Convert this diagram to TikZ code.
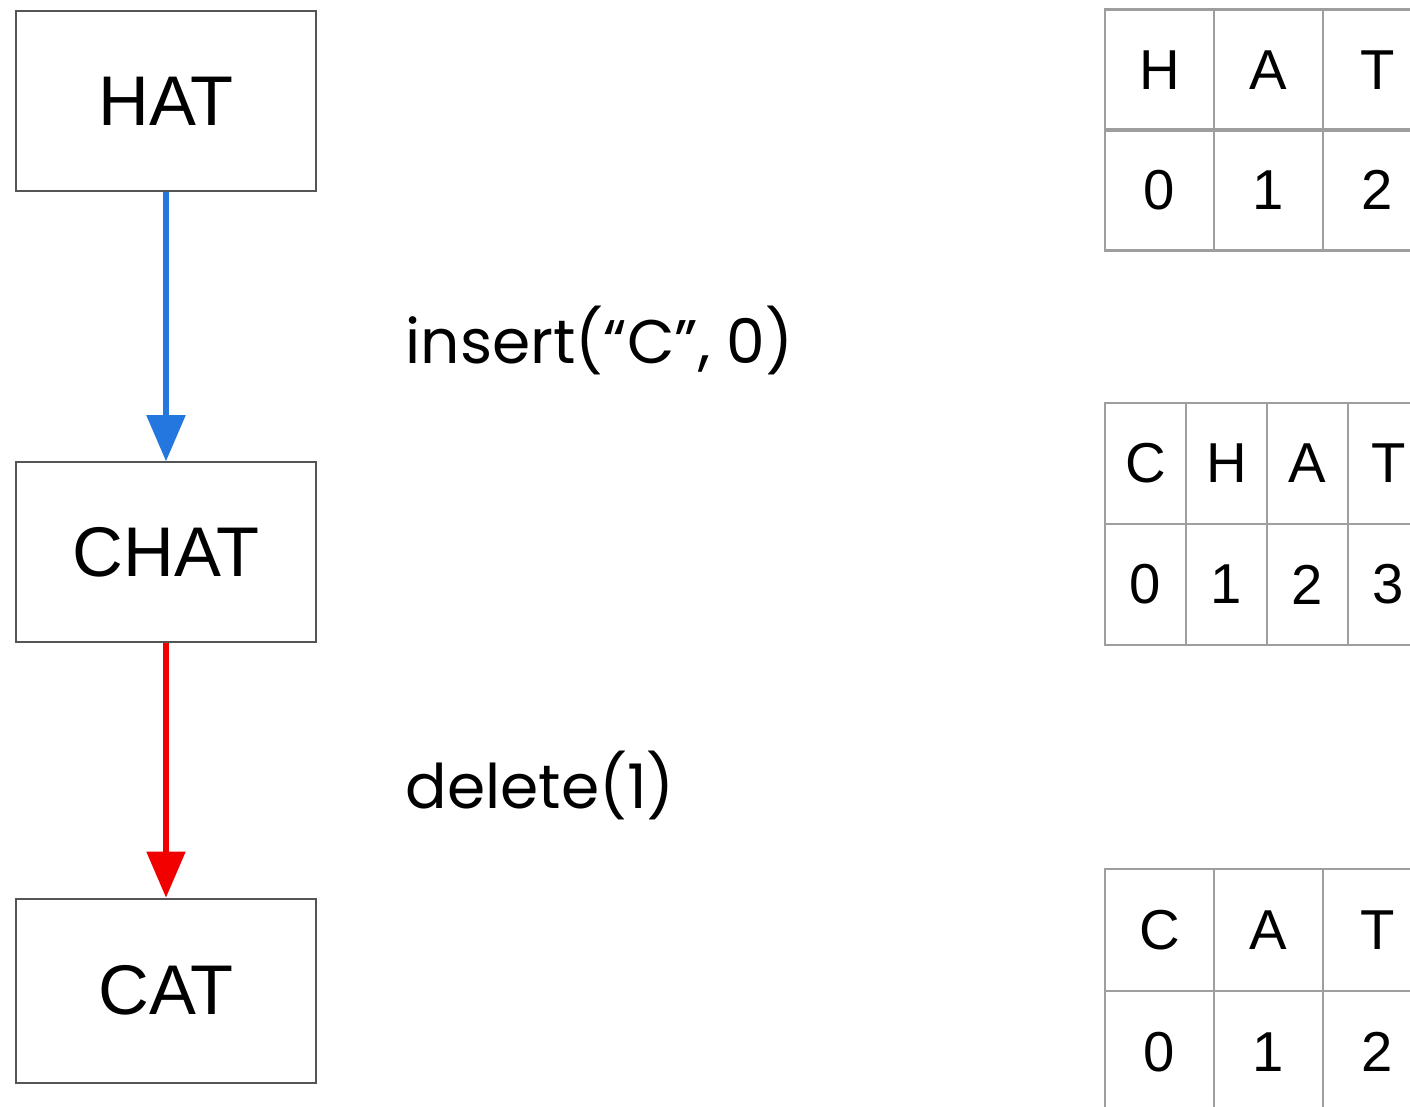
\documentclass[tikz,border=0pt]{standalone}
\usepackage{fontspec}
\setmainfont{Liberation Sans}
\newfontfamily\labelfont{Poppins}
\usetikzlibrary{positioning,arrows.meta}
\definecolor{boxgray}{HTML}{555555}
\definecolor{cellgray}{HTML}{9E9E9E}
\definecolor{insblue}{HTML}{2377DE}
\definecolor{delred}{HTML}{F20000}

\begin{document}
\begin{tikzpicture}[x=0.01cm, y=-0.01cm,
    main/.style = {draw=boxgray, line width=0.6pt, minimum width=3cm, minimum height=1.8cm, inner sep=0pt, font=\fontsize{20}{24}\selectfont},
    cell/.style = {draw=cellgray, line width=0.6pt, minimum height=1.21cm, inner sep=0pt, font=\fontsize{16}{19}\selectfont},
    op/.style = {anchor=west, inner sep=0pt, font=\labelfont\fontsize{17.5}{21}\selectfont},
    edit/.style = {line width=1.5pt, -{Triangle[width=0.38cm, length=0.46cm]}}]
    \useasboundingbox (0,0) rectangle (1410,1107);
    \clip (0,0) rectangle (1410,1107);

    % string states
    \node[main] (hat) at (166,101) {HAT};
    \node[main] (chat) [below=2.69cm of hat] {CHAT};
    \node[main, minimum height=1.84cm] (cat) [below=2.54cm of chat] {CAT};

    \draw[edit, insblue] (hat) -- (chat);
    \draw[edit, delred] (chat) -- (cat);

    \node[op] (ins) at (405,340) {insert(“C”, 0)};
    \node[op] (del) at (405,785) {delete(1)};

    % index tables
    \foreach \c [count=\i from 0] in {H,A,T} {
        \node[cell, minimum width=1.09cm] (hatc\i) at (1105+109*\i+54.5, 70) {\c};
        \node[cell, minimum width=1.09cm] (hatn\i) at (1105+109*\i+54.5, 190) {\i};
    }
    \foreach \c [count=\i from 0] in {C,H,A,T} {
        \node[cell, minimum width=0.81cm] (chatc\i) at (1105+81*\i+40.5, 463.5) {\c};
        \node[cell, minimum width=0.81cm] (chatn\i) at (1105+81*\i+40.5, 584.5) {\i};
    }
    \foreach \c [count=\i from 0] in {C,A,T} {
        \node[cell, minimum width=1.09cm, minimum height=1.22cm] (catc\i) at (1105+109*\i+54.5, 930) {\c};
        \node[cell, minimum width=1.09cm, minimum height=1.22cm] (catn\i) at (1105+109*\i+54.5, 1052) {\i};
    }
\end{tikzpicture}
\end{document}
